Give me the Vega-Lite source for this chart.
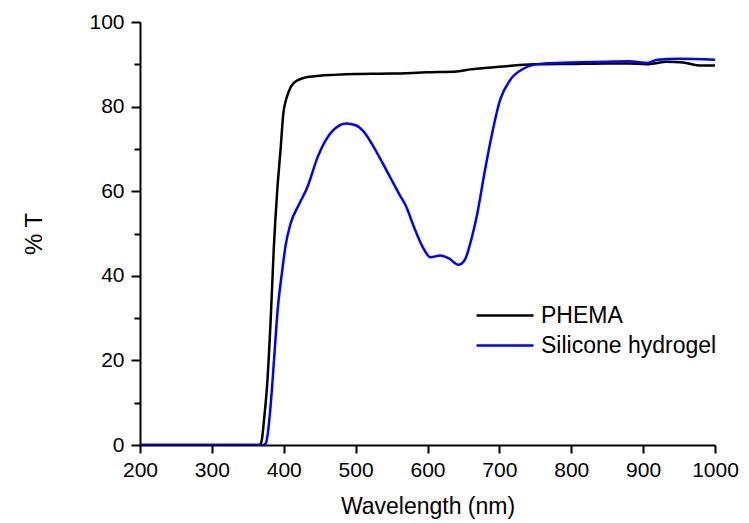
{
  "$schema": "https://vega.github.io/schema/vega-lite/v6.json",
  "width": 575,
  "height": 423,
  "autosize": "none",
  "padding": {"left": 140, "top": 22, "right": 34, "bottom": 78},
  "background": "white",
  "config": {
    "view": {"stroke": null},
    "font": "Liberation Sans"
  },
  "datasets": {
    "phema": [
      {"wl": 200, "T": 0}, {"wl": 300, "T": 0}, {"wl": 366, "T": 0}, {"wl": 369, "T": 0.8},
      {"wl": 373, "T": 6.7}, {"wl": 377, "T": 14.5}, {"wl": 382, "T": 30.3}, {"wl": 386, "T": 46},
      {"wl": 391, "T": 60.3}, {"wl": 395.5, "T": 69.7}, {"wl": 399.5, "T": 78.5}, {"wl": 403, "T": 81.5},
      {"wl": 407, "T": 83.6}, {"wl": 414, "T": 85.6}, {"wl": 428, "T": 86.8}, {"wl": 450, "T": 87.3},
      {"wl": 470, "T": 87.5}, {"wl": 500, "T": 87.7}, {"wl": 550, "T": 87.8}, {"wl": 600, "T": 88.1},
      {"wl": 641, "T": 88.3}, {"wl": 660, "T": 88.8}, {"wl": 700, "T": 89.4}, {"wl": 748, "T": 90.0},
      {"wl": 800, "T": 90.1}, {"wl": 850, "T": 90.2}, {"wl": 880, "T": 90.2}, {"wl": 905, "T": 90.0},
      {"wl": 915, "T": 90.2}, {"wl": 933, "T": 90.6}, {"wl": 956, "T": 90.4}, {"wl": 975, "T": 89.8},
      {"wl": 1000, "T": 89.7}
    ],
    "sh": [
      {"wl": 200, "T": 0}, {"wl": 300, "T": 0}, {"wl": 371, "T": 0}, {"wl": 375, "T": 0.4},
      {"wl": 378, "T": 3}, {"wl": 382, "T": 9.9}, {"wl": 386.8, "T": 20.9}, {"wl": 391.5, "T": 31.9},
      {"wl": 398, "T": 41.4}, {"wl": 402.6, "T": 47.2}, {"wl": 409.6, "T": 52.4}, {"wl": 421, "T": 56.8},
      {"wl": 433, "T": 61}, {"wl": 447, "T": 68}, {"wl": 460, "T": 72.5}, {"wl": 470, "T": 74.6},
      {"wl": 487, "T": 76}, {"wl": 500, "T": 75.6}, {"wl": 510, "T": 74.3}, {"wl": 525, "T": 70.5},
      {"wl": 538, "T": 66.5}, {"wl": 549, "T": 63}, {"wl": 560, "T": 59.5}, {"wl": 570, "T": 56.5},
      {"wl": 581, "T": 51.6}, {"wl": 593, "T": 46.9}, {"wl": 604, "T": 44.4}, {"wl": 618, "T": 44.8},
      {"wl": 630, "T": 44.1}, {"wl": 643, "T": 42.6}, {"wl": 652, "T": 43.8}, {"wl": 660, "T": 48},
      {"wl": 669, "T": 54.5}, {"wl": 680, "T": 65}, {"wl": 688, "T": 72.1}, {"wl": 701, "T": 81.6},
      {"wl": 715, "T": 86.3}, {"wl": 734, "T": 89}, {"wl": 757, "T": 90.1}, {"wl": 800, "T": 90.4},
      {"wl": 850, "T": 90.6}, {"wl": 880, "T": 90.7}, {"wl": 895, "T": 90.5}, {"wl": 905, "T": 90.3},
      {"wl": 920, "T": 91.1}, {"wl": 950, "T": 91.3}, {"wl": 1000, "T": 91.1}
    ]
  },
  "layer": [
    {
      "data": {"name": "phema"},
      "transform": [{"calculate": "'PHEMA'", "as": "series"}],
      "mark": {"type": "line", "strokeWidth": 2.5, "interpolate": "monotone", "clip": true},
      "encoding": {
        "x": {"field": "wl", "type": "quantitative"},
        "y": {"field": "T", "type": "quantitative"},
        "color": {"field": "series", "type": "nominal"}
      }
    },
    {
      "data": {"name": "sh"},
      "transform": [{"calculate": "'Silicone hydrogel'", "as": "series"}],
      "mark": {"type": "line", "strokeWidth": 2.5, "interpolate": "monotone", "clip": true},
      "encoding": {
        "x": {
          "field": "wl", "type": "quantitative",
          "scale": {"domain": [200, 1000], "nice": false, "zero": false},
          "axis": {
            "title": "Wavelength (nm)",
            "values": [200, 250, 300, 350, 400, 450, 500, 550, 600, 650, 700, 750, 800, 850, 900, 950, 1000],
            "labelExpr": "datum.value % 100 === 0 ? datum.label : ''",
            "format": "d",
            "grid": false,
            "domainColor": "black", "domainWidth": 2,
            "tickColor": "black", "tickWidth": 2,
            "tickSize": {"condition": {"test": "datum.value % 100 === 0", "value": 8}, "value": 5},
            "labelFontSize": 21, "labelColor": "black", "labelPadding": 6, "labelFlush": false,
            "titleFontSize": 23, "titleFontWeight": "normal", "titleColor": "black", "titlePadding": 15
          }
        },
        "y": {
          "field": "T", "type": "quantitative",
          "scale": {"domain": [0, 100], "nice": false},
          "axis": {
            "title": "% T",
            "values": [0, 10, 20, 30, 40, 50, 60, 70, 80, 90, 100],
            "labelExpr": "datum.value % 20 === 0 ? datum.label : ''",
            "grid": false,
            "domainColor": "black", "domainWidth": 2,
            "tickColor": "black", "tickWidth": 2,
            "tickSize": {"condition": {"test": "datum.value % 20 === 0", "value": 9}, "value": 6},
            "labelFontSize": 21, "labelColor": "black", "labelPadding": 7, "labelFlush": false,
            "titleFontSize": 24, "titleFontWeight": "normal", "titleColor": "black", "titlePadding": 42
          }
        },
        "color": {
          "field": "series", "type": "nominal",
          "scale": {"domain": ["PHEMA", "Silicone hydrogel"], "range": ["#000000", "#0000ff"]},
          "legend": {
            "title": null,
            "orient": "none",
            "legendX": 372,
            "legendY": 282,
            "padding": 0,
            "symbolType": "M-4.7,0H1",
            "symbolSize": 400,
            "symbolStrokeWidth": 2.5,
            "labelFontSize": 23,
            "labelLimit": 400,
            "labelColor": "black",
            "labelOffset": 6,
            "rowPadding": 6
          }
        }
      }
    }
  ]
}
